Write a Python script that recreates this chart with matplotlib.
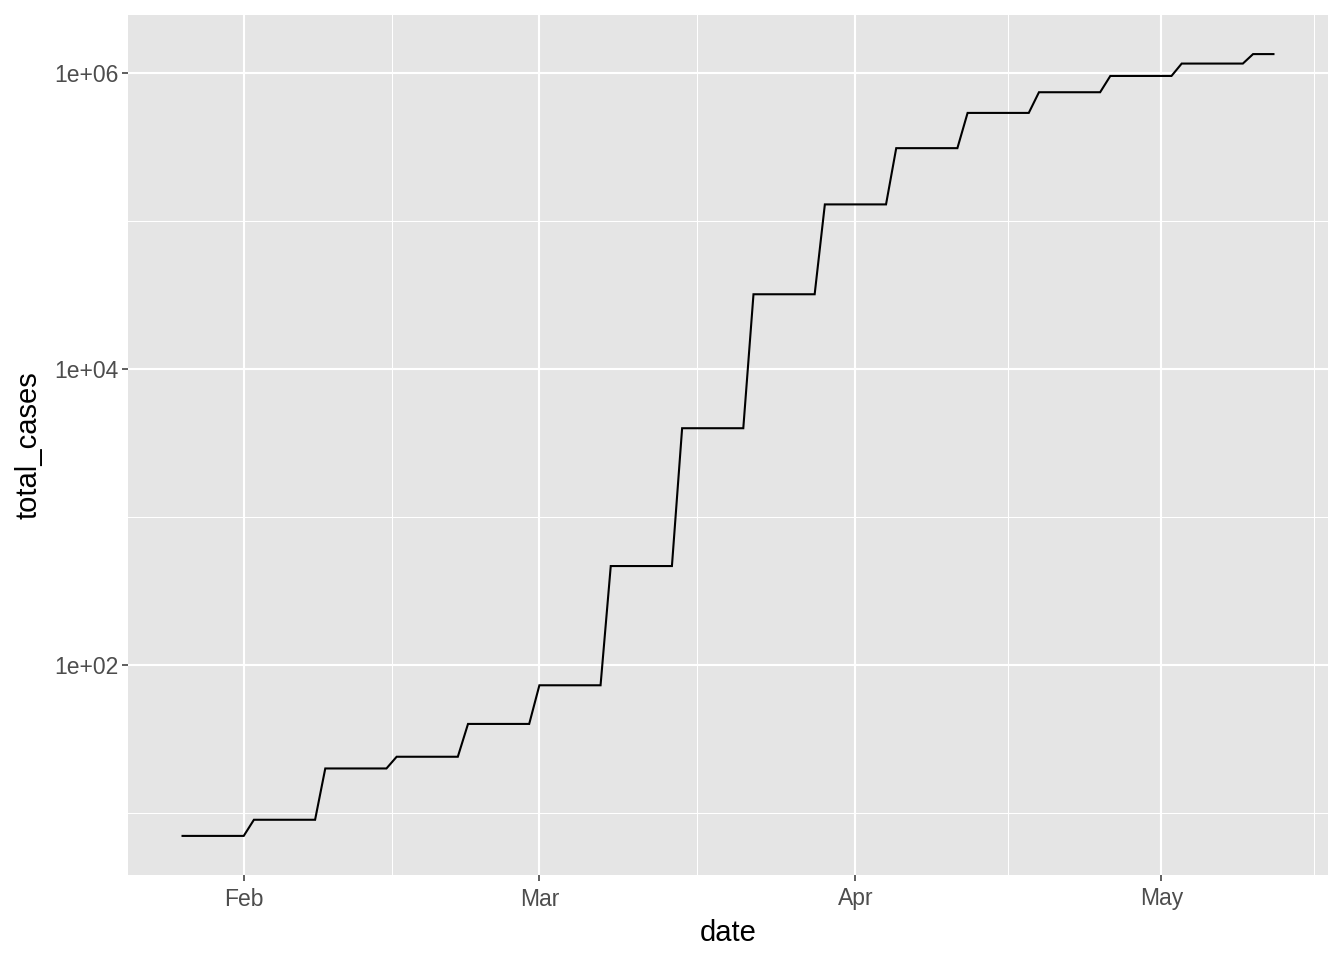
import numpy as np
import pandas as pd
import matplotlib
matplotlib.use("Agg")
from matplotlib import pyplot as plt
import matplotlib.dates as mdates
from matplotlib.ticker import FixedLocator, FixedFormatter

# weekly totals (each value repeats for every day of that week)
week_starts = ["2020-01-26", "2020-02-02", "2020-02-09", "2020-02-16", "2020-02-23",
               "2020-03-01", "2020-03-08", "2020-03-15", "2020-03-22", "2020-03-29",
               "2020-04-05", "2020-04-12", "2020-04-19", "2020-04-26", "2020-05-03",
               "2020-05-10"]
week_totals = [7, 9, 20, 24, 40, 73, 467, 3990, 32100, 130000,
               312000, 540000, 745000, 960000, 1164000, 1349000]
last_day = "2020-05-12"

y_breaks = [1e2, 1e4, 1e6]
y_labels = ["1e+02", "1e+04", "1e+06"]
y_minor = [1e1, 1e3, 1e5]
x_breaks = ["2020-02-01", "2020-03-01", "2020-04-01", "2020-05-01"]
x_labels = ["Feb", "Mar", "Apr", "May"]

# build the daily series
dates = pd.date_range(week_starts[0], last_day, freq="D")
starts = pd.to_datetime(week_starts)
idx = np.searchsorted(starts.values, dates.values, side="right") - 1
total_cases = np.array(week_totals, dtype=float)[idx]

plt.rcParams["font.family"] = ["Liberation Sans", "DejaVu Sans"]

fig = plt.figure(figsize=(13.44, 9.6), dpi=100)
ax = fig.add_axes([128 / 1344, 85 / 960, 1200 / 1344, 860 / 960])
ax.set_facecolor("#E5E5E5")
for s in ax.spines.values():
    s.set_visible(False)

ax.set_yscale("log")
ax.plot(dates, total_cases, color="black", lw=1.5, solid_joinstyle="miter", zorder=3)

# limits like ggplot (5% expansion)
lo, hi = np.log10(total_cases.min()), np.log10(total_cases.max())
pad = (hi - lo) * 0.05
ax.set_ylim(10 ** (lo - pad), 10 ** (hi + pad))
d0, d1 = mdates.date2num(dates[0]), mdates.date2num(dates[-1])
xpad = (d1 - d0) * 0.05
ax.set_xlim(d0 - xpad, d1 + xpad)

xb = mdates.date2num(pd.to_datetime(x_breaks))
x_minor = list((xb[:-1] + xb[1:]) / 2) + [xb[-1] + (xb[-1] - xb[-2]) / 2]

ax.yaxis.set_major_locator(FixedLocator(y_breaks))
ax.yaxis.set_major_formatter(FixedFormatter(y_labels))
ax.yaxis.set_minor_locator(FixedLocator(y_minor))
ax.yaxis.set_minor_formatter(FixedFormatter(["", "", ""]))
ax.xaxis.set_major_locator(FixedLocator(xb))
ax.xaxis.set_major_formatter(FixedFormatter(x_labels))
ax.xaxis.set_minor_locator(FixedLocator(x_minor))

ax.grid(which="major", color="white", lw=1.5)
ax.grid(which="minor", color="white", lw=0.75)
ax.set_axisbelow(True)

ax.tick_params(which="major", length=4, width=1.1, color="#333333",
               labelsize=16.5, labelcolor="#4D4D4D", pad=3)
ax.tick_params(axis="x", which="major", pad=5)
ax.tick_params(which="minor", length=0)

ax.set_xlabel("date", fontsize=21, color="black", labelpad=6)
ax.set_ylabel("total_cases", fontsize=21, color="black", labelpad=8)

fig.savefig("out.png", dpi=100)
